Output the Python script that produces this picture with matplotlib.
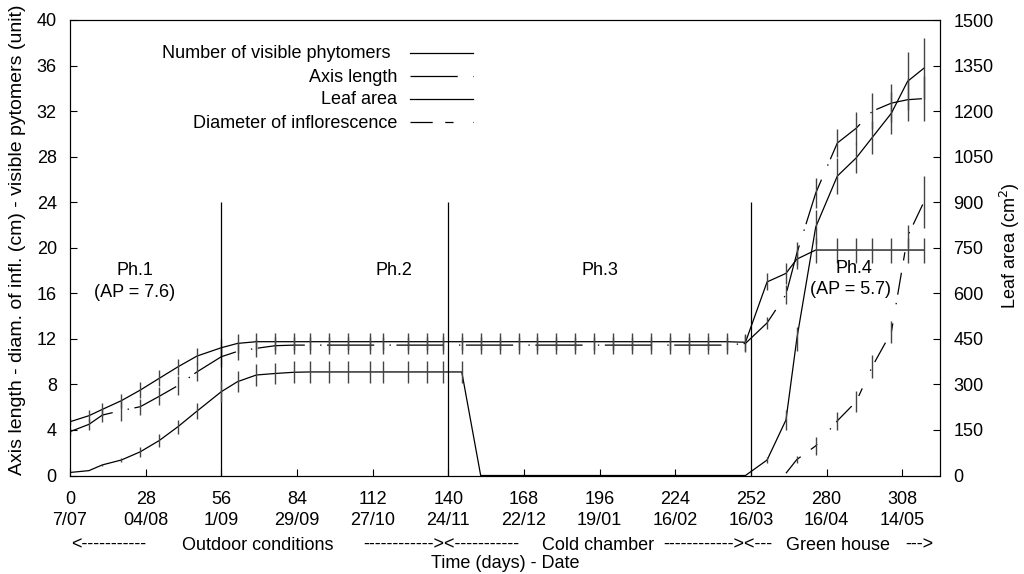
import matplotlib
matplotlib.use("Agg")
import matplotlib.pyplot as plt
from matplotlib.lines import Line2D

plt.rcParams["font.family"] = ["Liberation Sans", "DejaVu Sans"]
plt.rcParams["font.size"] = 13
plt.rcParams["lines.scale_dashes"] = False

# ---- data ----
days = [0, 7, 12, 19, 26, 33, 40, 47, 56, 62, 69, 76, 83, 89, 96, 103, 111, 116,
        125, 132, 138, 145, 152, 159, 166, 173, 180, 187, 194, 201, 208, 215, 222,
        229, 236, 243, 250, 258, 265, 269, 276, 284, 291, 297, 304, 310, 316]

phytomers = [4.72, 5.25, 5.81, 6.57, 7.5, 8.53, 9.55, 10.49, 11.22, 11.6, 11.75, 11.75,
             11.75, 11.75, 11.75, 11.75, 11.75, 11.75, 11.75, 11.75, 11.75, 11.75, 11.75,
             11.75, 11.75, 11.75, 11.75, 11.75, 11.75, 11.75, 11.75, 11.75, 11.75, 11.75,
             11.75, 11.75, 11.7, 17.0, 17.75, 19.0, 19.8, 19.8, 19.8, 19.8, 19.8, 19.8, 19.8]
phyto_err = [0.3, 0.5, 0.6, 0.6, 0.7, 0.7, 0.7, 0.7, 0.8, 0.8, 0.75, 0.75, 0.75, 0.75,
             0.75, 0.75, 0.75, 0.75, 0.75, 0.75, 0.75, 0.75, 0.75, 0.75, 0.75, 0.75, 0.75,
             0.75, 0.75, 0.75, 0.75, 0.75, 0.75, 0.75, 0.75, 0.75, 0.75, 0.75, 0.9, 0.9,
             1.1, 1.1, 1.1, 1.1, 1.1, 1.1, 1.1]

axis_len = [3.85, 4.49, 5.31, 5.7, 6.04, 6.95, 7.9, 9.1, 10.43, 10.9, 11.17, 11.4,
            11.45, 11.45, 11.45, 11.45, 11.45, 11.45, 11.45, 11.45, 11.45, 11.45, 11.45,
            11.45, 11.45, 11.45, 11.45, 11.45, 11.45, 11.45, 11.45, 11.45, 11.45, 11.45,
            11.45, 11.45, 11.6, 13.4, 15.9, 19.5, 24.8, 29.2, 30.5, 32.0, 32.7, 33.0, 33.1]
axis_err = [0.3, 0.5, 0.6, 0.9, 0.7, 0.8, 0.8, 0.8, 0.9, 0.8, 0.8, 0.75, 0.75, 0.75,
            0.75, 0.75, 0.75, 0.75, 0.75, 0.75, 0.75, 0.75, 0.75, 0.75, 0.75, 0.75, 0.75,
            0.75, 0.75, 0.75, 0.75, 0.75, 0.75, 0.75, 0.75, 0.75, 0.75, 0.5, 0.8, 1.0,
            1.3, 1.2, 1.4, 1.6, 1.7, 1.9, 2.0]

leaf_area = [10, 16, 35, 51, 78, 115, 161, 212, 276, 309, 331, 336, 340, 341, 341, 341,
             341, 341, 341, 341, 341, 341, 0, 0, 0, 0, 0, 0, 0, 0, 0, 0, 0, 0, 0, 0, 0,
             51, 183, 450, 818, 986, 1046, 1114, 1193, 1298, 1341]
leaf_err = [0, 0, 4, 6, 17, 22, 23, 26, 34, 34, 36, 36, 36, 36, 36, 36, 36, 36, 36, 36,
            36, 36, 0, 0, 0, 0, 0, 0, 0, 0, 0, 0, 0, 0, 0, 0, 0,
            10, 33, 40, 55, 60, 50, 55, 70, 95, 100]

diam_days = [265, 269, 276, 284, 291, 297, 304, 310, 316]
diam = [0.2, 1.4, 2.6, 4.8, 6.5, 9.6, 12.6, 21.0, 24.0]
diam_err = [0.0, 0.3, 0.8, 0.8, 0.9, 1.0, 0.95, 1.0, 2.3]

xtick_days = [0, 28, 56, 84, 112, 140, 168, 196, 224, 252, 280, 308]
xtick_dates = ["7/07", "04/08", "1/09", "29/09", "27/10", "24/11", "22/12",
               "19/01", "16/02", "16/03", "16/04", "14/05"]
phase_bounds = [56, 140, 252]

# ---- styles ----
phyto_style = dict(color="k", lw=0.9, ls="-")
axis_style = dict(color="k", lw=0.9, ls=(0, (34, 11, 1, 4)))
leaf_style = dict(color="k", lw=0.9, ls="-")
diam_style = dict(color="k", lw=0.9, ls=(0, (16, 9, 6, 14, 1, 6)))
bar_kw = dict(fmt="none", ecolor="#444444", elinewidth=1.0, capsize=0)

W, H = 1024, 574
fig = plt.figure(figsize=(W / 100, H / 100), dpi=100)
ax = fig.add_axes([70 / W, 1 - 475.5 / H, 870 / W, 455.5 / H])
ax2 = ax.twinx()

ax.plot(days, phytomers, **phyto_style)
ax.errorbar(days, phytomers, yerr=phyto_err, **bar_kw)
ax.plot(days, axis_len, **axis_style)
ax.errorbar(days, axis_len, yerr=axis_err, **bar_kw)
ax.plot(diam_days, diam, **diam_style)
ax.errorbar(diam_days, diam, yerr=diam_err, **bar_kw)
ax2.plot(days, leaf_area, **leaf_style)
ax2.errorbar(days, leaf_area, yerr=leaf_err, **bar_kw)

ax.vlines(phase_bounds, 0, 24, color="k", lw=0.9)

ax.set_xlim(0, 322)
ax.set_ylim(0, 40)
ax2.set_ylim(0, 1500)
ax.set_yticks(range(0, 41, 4))
ax2.set_yticks(range(0, 1501, 150))
ax.set_xticks(xtick_days)
ax.set_xticklabels([f"{d}\n{s}" for d, s in zip(xtick_days, xtick_dates)],
                   linespacing=1.25)

ax.tick_params(axis="x", direction="in", length=5, width=0.8, pad=11.5)
ax.tick_params(axis="y", direction="in", length=5, width=0.8, pad=9.5)
ax2.tick_params(axis="y", direction="in", length=5, width=0.8, pad=9.5)
for a in (ax, ax2):
    for sp in a.spines.values():
        sp.set_linewidth(0.8)

# phase labels
ax.text(24, 18.0, "Ph.1", ha="center", va="center")
ax.text(24, 16.1, "(AP = 7.6)", ha="center", va="center")
ax.text(120, 18.0, "Ph.2", ha="center", va="center")
ax.text(196, 18.0, "Ph.3", ha="center", va="center")
ax.text(290, 18.2, "Ph.4", ha="center", va="center")
ax.text(289, 16.3, "(AP = 5.7)", ha="center", va="center")

# axis titles
fig.text(18 / W, 1 - 240 / H, "Axis length - diam. of infl. (cm) - visible pytomers (unit)",
         rotation=90, ha="center", va="center", fontsize=14)
fig.text(1010 / W, 1 - 246 / H, "Leaf area (cm$^2$)", rotation=90, ha="center", va="center")
fig.text(505 / W, 1 - 563 / H, "Time (days) - Date", ha="center", va="center")

# conditions line under the dates
for x0, s in [(71, "<-----------"), (182, "Outdoor conditions"),
              (363, "------------><-----------"), (542, "Cold chamber"),
              (663, "------------><---"), (786, "Green house"), (905, "--->")]:
    fig.text(x0 / W, 1 - 545 / H, s, ha="left", va="center")

# legend, gnuplot style: right-aligned text, sample on the right
legend_rows = [("Number of visible phytomers", phyto_style, 390, 53),
               ("Axis length", axis_style, 397, 76),
               ("Leaf area", leaf_style, 397, 99),
               ("Diameter of inflorescence", diam_style, 397, 122)]
for label, style, xr, y in legend_rows:
    fig.text(xr / W, 1 - (y + 1) / H, label, ha="right", va="center")
    fig.add_artist(Line2D([410 / W, 473 / W], [1 - y / H, 1 - y / H],
                          transform=fig.transFigure, **style))

fig.savefig("out.png", dpi=100)
